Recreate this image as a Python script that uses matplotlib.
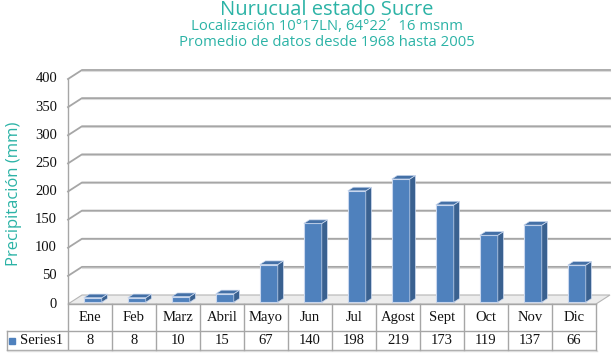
import matplotlib.pyplot as plt
from matplotlib.patches import Polygon
import numpy as np

meses = ['Ene', 'Feb', 'Marz', 'Abril', 'Mayo', 'Jun', 'Jul', 'Agost', 'Sept', 'Oct', 'Nov', 'Dic']
precip = [8, 8, 10, 15, 67, 140, 198, 219, 173, 119, 137, 66]
yticks = [0, 50, 100, 150, 200, 250, 300, 350, 400]
serie = 'Series1'

teal = '#2cb3a6'
gris = '#a6a6a6'
azul = '#4f81bd'
azul_osc = '#3a6190'
azul_top = '#4470a6'

fig = plt.figure(figsize=(6.14, 3.6), dpi=100)
ax = fig.add_axes([68 / 614, 56 / 360, 528 / 614, 225 / 360])
n = len(meses)
ax.set_xlim(0, n)
ax.set_ylim(0, 400)
ax.axis('off')

# profundidad del "3D"
DX = 14 / 44
DY = 16

# piso
ax.add_patch(Polygon([(0, 0), (DX, DY), (n + DX, DY), (n, 0)], closed=True,
                     facecolor='#ececec', edgecolor='#b5b5b5', lw=0.8, clip_on=False, zorder=1))

# lineas de la pared del fondo
for t in yticks[1:]:
    ax.plot([0, DX, n + DX], [t, t + DY, t + DY], color=gris, lw=1.3, clip_on=False, zorder=1)
    ax.plot([DX, n + DX], [t + DY - 1.2, t + DY - 1.2], color='#dcdcdc', lw=0.8, clip_on=False, zorder=0.9)
ax.plot([0, 0], [-82, 400], color=gris, lw=1.0, clip_on=False, zorder=2)

for t in yticks:
    ax.text(-0.25, t, str(t), ha='right', va='center', family='Liberation Serif',
            fontsize=10.5, color='#111111')

# barras
w = 18 / 44
f0, fd = 0.2, 0.4
xc = np.arange(n) + 0.5 + f0 * DX
y0 = f0 * DY
ax.bar(xc, precip, width=w, bottom=y0, color=azul, edgecolor='#c9d7ee', lw=0.8, zorder=3,
       clip_on=False)
for x, v in zip(xc, precip):
    x0, x1 = x - w / 2, x + w / 2
    y1 = v + y0
    ax.add_patch(Polygon([(x1, y0), (x1, y1), (x1 + fd * DX, y1 + fd * DY), (x1 + fd * DX, y0 + fd * DY)],
                         closed=True, facecolor=azul_osc, edgecolor='#c9d7ee', lw=0.5, zorder=3, clip_on=False))
    ax.add_patch(Polygon([(x0, y1), (x1, y1), (x1 + fd * DX, y1 + fd * DY), (x0 + fd * DX, y1 + fd * DY)],
                         closed=True, facecolor=azul_top, edgecolor='#c9d7ee', lw=0.5, zorder=3, clip_on=False))

# tabla de datos
r1 = -48
r2 = -82
xl = -61 / 44
ax.plot([0, n], [0, 0], color=gris, lw=1.0, clip_on=False, zorder=2)
ax.plot([xl, n], [r1, r1], color=gris, lw=1.0, clip_on=False)
ax.plot([xl, n], [r2, r2], color=gris, lw=1.0, clip_on=False)
ax.plot([xl + 0.02, n + 0.02], [r2 - 1.5, r2 - 1.5], color='#dddddd', lw=1.0, clip_on=False)
ax.plot([xl, xl], [r1, r2], color=gris, lw=1.0, clip_on=False)
for k in range(1, n + 1):
    ax.plot([k, k], [0, r2], color=gris, lw=1.0, clip_on=False)
for i in range(n):
    ax.text(i + 0.5, r1 / 2, meses[i], ha='center', va='center', family='Liberation Serif',
            fontsize=10.5, color='#111111')
    ax.text(i + 0.5, (r1 + r2) / 2, str(precip[i]), ha='center', va='center',
            family='Liberation Serif', fontsize=10.5, color='#111111')
ax.plot([-56 / 44], [(r1 + r2) / 2], marker='s', ms=4.5, color=azul, clip_on=False)
ax.text(-48 / 44, (r1 + r2) / 2, serie, ha='left', va='center', family='Liberation Serif',
        fontsize=10.5, color='#111111')

# titulos
fig.text(0.5328, 1 - 10 / 360, 'Nurucual estado Sucre', ha='center', va='center',
         family='Open Sans', fontsize=14.5, color=teal)
fig.text(0.5328, 1 - 27 / 360, 'Localización 10°17LN, 64°22´  16 msnm', ha='center', va='center',
         family='Open Sans', fontsize=10.7, color=teal)
fig.text(0.5328, 1 - 42 / 360, 'Promedio de datos desde 1968 hasta 2005', ha='center', va='center',
         family='Open Sans', fontsize=10.7, color=teal)
fig.text(14 / 614, 1 - 194 / 360, 'Precipitación (mm)', rotation=90, ha='center', va='center',
         family='Open Sans', fontsize=12, color=teal)

fig.savefig('out.png', dpi=100)
